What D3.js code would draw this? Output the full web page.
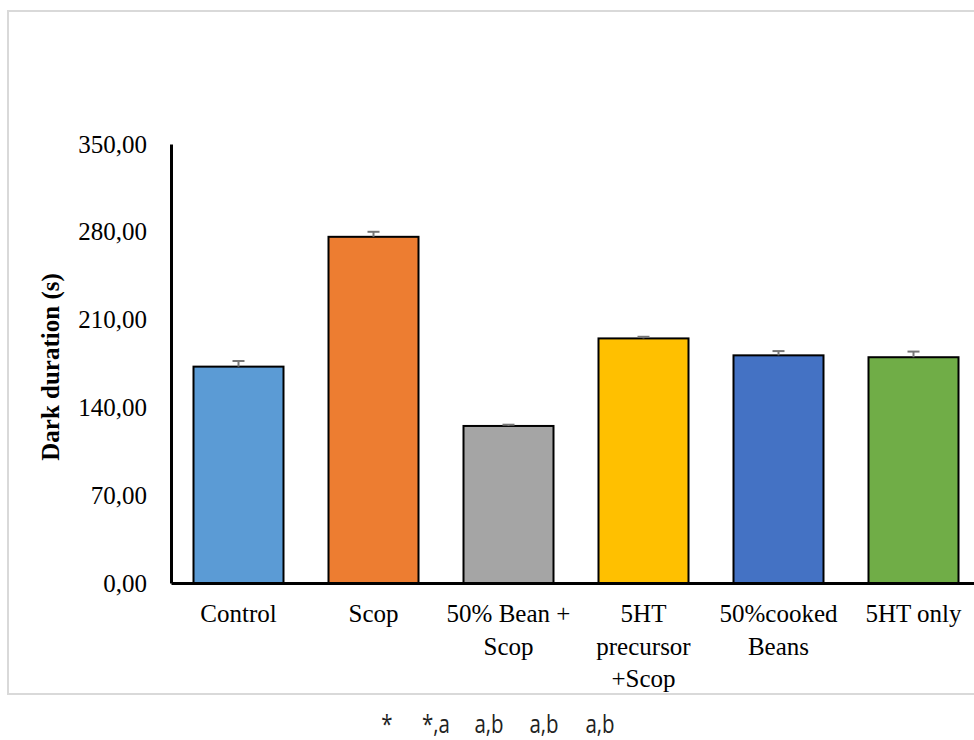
<!DOCTYPE html>
<html>
<head>
<meta charset="utf-8">
<script src="https://cdn.jsdelivr.net/npm/d3@7/dist/d3.min.js"></script>
<style>
  html, body { margin: 0; padding: 0; background: #fff; }
  svg { display: block; }
  .serif { font-family: "Liberation Serif", "Times New Roman", Times, "DejaVu Serif", serif; }
  .sig { font-family: "Open Sans", "DejaVu Sans", sans-serif; }
</style>
</head>
<body>
<svg id="chart" width="974" height="740"></svg>
<script>
// Dark-compartment duration per treatment group (mean ± SE)
const groups = ["Control", "Scop", "50% Bean + Scop", "5HT precursor +Scop", "50%cooked Beans", "5HT only"];
const labelLines = [["Control"], ["Scop"], ["50% Bean +", "Scop"], ["5HT", "precursor", "+Scop"], ["50%cooked", "Beans"], ["5HT only"]];
const means = [172.5, 276.0, 125.2, 195.0, 181.5, 180.0];
const errors = [4.5, 4.0, 1.0, 1.3, 3.4, 4.5];
const colors = ["#5b9bd5", "#ed7d31", "#a5a5a5", "#ffc000", "#4472c4", "#70ad47"];
const yTicks = [0, 70, 140, 210, 280, 350];
const significance = ["*", "*,a", "a,b", "a,b", "a,b"];

const svg = d3.select("#chart");

// outer chart-area frame
svg.append("rect")
  .attr("x", 8).attr("y", 11)
  .attr("width", 990).attr("height", 683)
  .attr("fill", "#fff")
  .attr("stroke", "#d9d9d9").attr("stroke-width", 2);

const x = d3.scaleBand().domain(groups).range([171, 981])
  .paddingInner(1 / 3).paddingOuter(1 / 6);
const y = d3.scaleLinear().domain([0, 350]).range([583, 144]);

// bars
svg.append("g").selectAll("rect").data(groups).join("rect")
  .attr("x", d => x(d))
  .attr("y", (d, i) => y(means[i]))
  .attr("width", x.bandwidth())
  .attr("height", (d, i) => y(0) - y(means[i]))
  .attr("fill", (d, i) => colors[i])
  .attr("stroke", "#000").attr("stroke-width", 2);

// error bars (upper whisker only)
const eb = svg.append("g").attr("stroke", "#767676").attr("stroke-width", 2);
groups.forEach((g, i) => {
  const cx = x(g) + x.bandwidth() / 2;
  eb.append("line").attr("x1", cx).attr("x2", cx)
    .attr("y1", y(means[i])).attr("y2", y(means[i] + errors[i]));
  eb.append("line").attr("x1", cx - 6).attr("x2", cx + 6)
    .attr("y1", y(means[i] + errors[i])).attr("y2", y(means[i] + errors[i]));
});

// y axis
const yAxis = svg.append("g").attr("transform", "translate(171,0)")
  .call(d3.axisLeft(y).tickValues(yTicks).tickSize(0).tickPadding(24)
    .tickFormat(d => d3.format(".2f")(d).replace(".", ",")));
yAxis.attr("font-family", null).attr("font-size", null);
yAxis.select(".domain").attr("stroke", "#000").attr("stroke-width", 3);
yAxis.selectAll("text").attr("class", "serif")
  .attr("font-size", 25).attr("fill", "#000");

// x axis
const xAxis = svg.append("g").attr("transform", "translate(0,583)")
  .call(d3.axisBottom(x).tickSize(0).tickFormat(""));
xAxis.select(".domain").attr("stroke", "#000").attr("stroke-width", 3);

// multi-line category labels
const catLabels = svg.append("g");
groups.forEach((g, i) => {
  const cx = x(g) + x.bandwidth() / 2;
  const t = catLabels.append("text")
    .attr("class", "serif")
    .attr("x", cx).attr("y", 622)
    .attr("text-anchor", "middle")
    .attr("font-size", 25).attr("fill", "#000");
  labelLines[i].forEach((line, k) => {
    t.append("tspan").attr("x", cx)
      .attr("dy", k === 0 ? 0 : 32.5).text(line);
  });
});

// y axis title
svg.append("text")
  .attr("class", "serif")
  .attr("transform", "translate(59,367) rotate(-90)")
  .attr("text-anchor", "middle")
  .attr("font-size", 25).attr("font-weight", "bold")
  .attr("fill", "#000")
  .text("Dark duration (s)");

// significance markers under the chart (narrow sans)
const sigX = [387, 436, 489, 544, 600];
svg.append("g").selectAll("text").data(significance).join("text")
  .attr("class", "sig")
  .attr("transform", (d, i) => `translate(${sigX[i]},733) scale(0.82,1)`)
  .attr("text-anchor", "middle")
  .attr("font-size", 25)
  .attr("fill", "#222")
  .text(d => d);
</script>
</body>
</html>
